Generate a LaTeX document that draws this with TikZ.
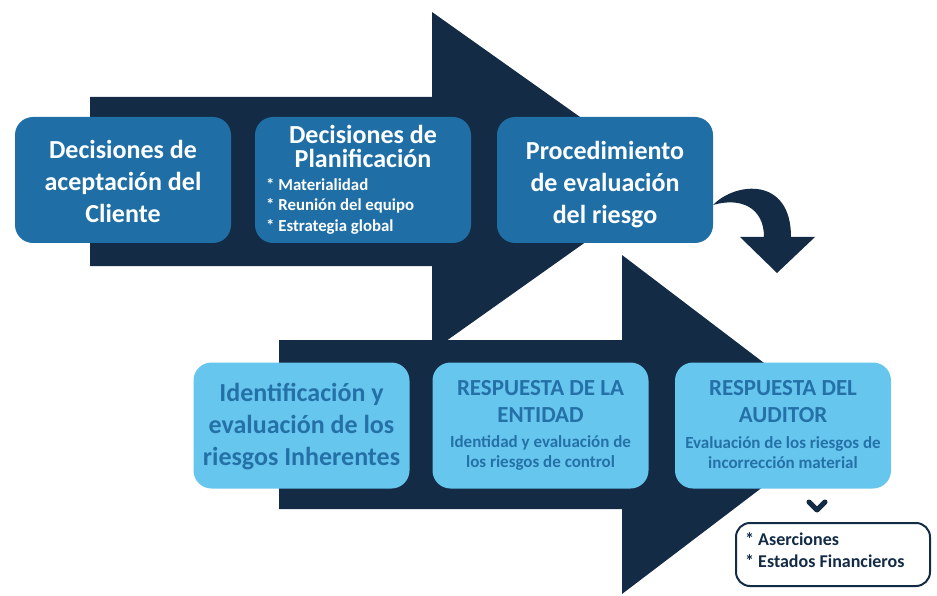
\documentclass[tikz,border=0pt]{standalone}
\usepackage{fontspec}
\setmainfont{Carlito}
\definecolor{navy}{HTML}{132B45}
\definecolor{midblue}{HTML}{1F6FA6}
\definecolor{lightblue}{HTML}{67C6EE}
\definecolor{textblue}{HTML}{2471A8}
\begin{document}
\begin{tikzpicture}[x=1pt,y=-1pt,
  box/.style={rounded corners=18pt, minimum width=216pt, minimum height=126pt, inner sep=0pt, align=center},
  darkbox/.style={box, fill=midblue, text=white},
  lightbox/.style={box, fill=lightblue, text=textblue},
  bigtxt/.style={font=\bfseries\fontsize{26}{32}\selectfont, align=center},
  titletxt/.style={font=\bfseries\fontsize{23}{27}\selectfont, align=center},
  subtxt/.style={font=\bfseries\fontsize{17}{20}\selectfont, align=center},
  bullettxt/.style={font=\bfseries\fontsize{16.8}{20.5}\selectfont, align=left, inner sep=0pt},
  notebox/.style={draw=navy, line width=2pt, fill=white, rounded corners=14pt, minimum width=194pt, minimum height=63pt, inner sep=0pt}
]
\useasboundingbox (0,0) rectangle (937,596);
% big arrows
\fill[navy] (90,97) -- (432,97) -- (432,12) -- (671,181.5) -- (432,351) -- (432,266) -- (90,266) -- cycle;
\fill[navy] (279,340) -- (622,340) -- (622,255) -- (845,424.5) -- (622,594) -- (622,509) -- (279,509) -- cycle;
% curved arrow
\fill[navy] (713,205) .. controls (735,182) and (791,176) .. (791,237) -- (815,237) -- (777,273) -- (740,237) -- (764,237) .. controls (764,207) and (740,197) .. (713,205) -- cycle;
% top row
\node[darkbox] (b1) at (123,180) {};
\node[bigtxt, text=white] (t1) at (123,181) {Decisiones de\\aceptación del\\Cliente};
\node[darkbox] (b2) at (363,180) {};
\node[font=\bfseries\fontsize{26}{24}\selectfont, align=center, text=white] (t2) at (363,146) {Decisiones de\\Planificación};
\node[bullettxt, text=white, anchor=west] (l2) at (266,206) {* Materialidad\\* Reunión del equipo\\* Estrategia global};
\node[darkbox] (b3) at (605,180) {};
\node[bigtxt, text=white] (t3) at (605,185) {Procedimiento\\de evaluación\\del riesgo};
% bottom row
\node[lightbox] (b4) at (301.5,425.5) {};
\node[bigtxt, text=textblue] (t4) at (301.5,427) {Identificación y\\evaluación de los\\riesgos Inherentes};
\node[lightbox] (b5) at (540.5,425.5) {};
\node[titletxt, text=textblue] (t5) at (540.5,401.5) {RESPUESTA DE LA\\ENTIDAD};
\node[subtxt, text=textblue] (s5) at (540.5,453) {Identidad y evaluación de\\los riesgos de control};
\node[lightbox] (b6) at (783,425.5) {};
\node[titletxt, text=textblue] (t6) at (783,401.5) {RESPUESTA DEL\\AUDITOR};
\node[subtxt, text=textblue] (s6) at (783,453) {Evaluación de los riesgos de\\incorrección material};
% note
\coordinate (cv) at (817,506);
\draw[navy, line width=5pt, line join=round, line cap=round] ([xshift=-8pt,yshift=4pt]cv) -- ([yshift=-4pt]cv) -- ([xshift=8pt,yshift=4pt]cv);
\node[notebox] (b7) at (833,554.5) {};
\node[font=\bfseries\fontsize{18}{22}\selectfont, text=navy, align=left, anchor=west, inner sep=0pt] (t7) at (745,550) {* Aserciones\\* Estados Financieros};
\end{tikzpicture}
\end{document}
